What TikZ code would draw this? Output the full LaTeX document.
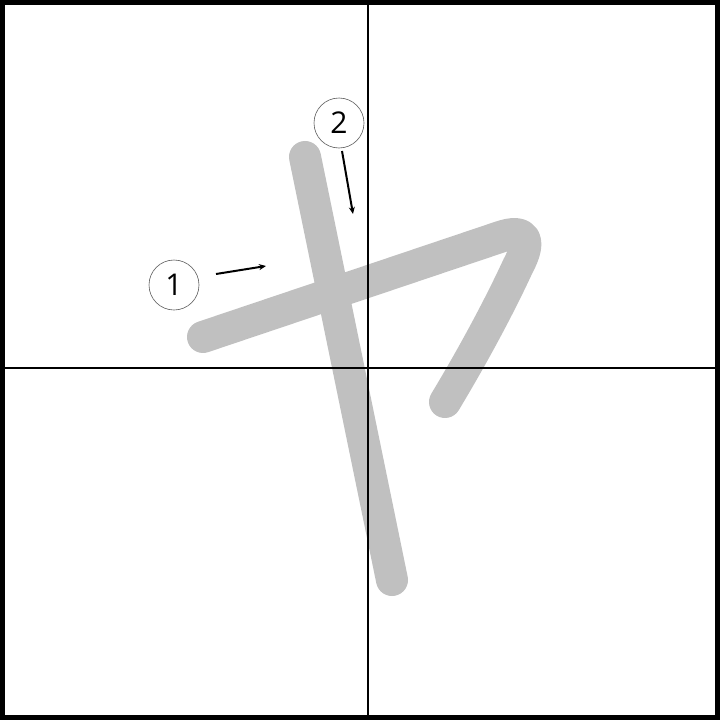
\documentclass[tikz,border=0pt]{standalone}
\usepackage{fontspec}
\setmainfont{Open Sans}
\usetikzlibrary{arrows.meta}
\begin{document}
\begin{tikzpicture}[x=1pt,y=-1pt,
  strokepath/.style={draw={rgb,255:red,192;green,192;blue,192},line width=32pt,line cap=round,line join=round},
  guide/.style={draw=black,line width=1.1pt},
  numlabel/.style={circle,draw={rgb,255:red,90;green,90;blue,90},line width=0.6pt,minimum size=50pt,inner sep=0pt,font=\fontsize{30pt}{32pt}\selectfont},
  orderarrow/.style={draw=black,line width=2pt,-{Stealth[length=7pt,width=6pt]}}]
\useasboundingbox (0,0) rectangle (720,720);
\fill[white] (0,0) rectangle (720,720);
% strokes
\path[strokepath] (203,337) -- (500,237) .. controls (526,228) and (532,240) .. (518,266) .. controls (500,305) and (475,352) .. (445,402);
\path[strokepath] (305,157) -- (392,580);
% guides
\draw[guide] (368,0) -- (368,720);
\draw[guide] (0,368) -- (720,368);
% labels
\node[numlabel] (n1) at (174,285) {1};
\node[numlabel] (n2) at (339,123) {2};
\coordinate (a1s) at (216,274);
\coordinate (a1e) at (266,266);
\coordinate (a2s) at (342,151);
\coordinate (a2e) at (353,214);
\draw[orderarrow] (a1s) -- (a1e);
\draw[orderarrow] (a2s) -- (a2e);
% frame
\draw[line width=5pt] (2.5,2.5) rectangle (717.5,717.5);
\end{tikzpicture}
\end{document}
